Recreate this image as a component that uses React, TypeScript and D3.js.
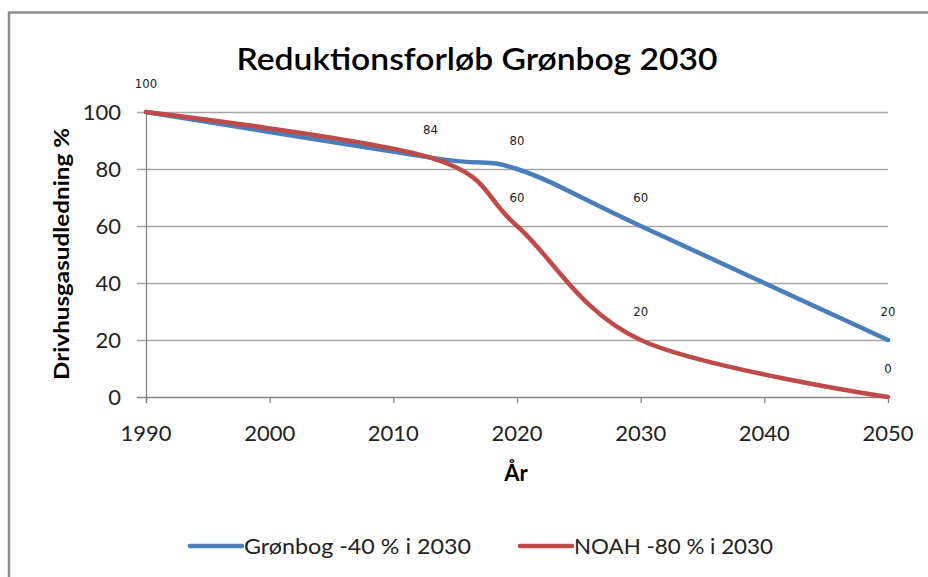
import React, { useEffect, useRef } from "react";
import * as d3 from "d3";

const years = [1990, 2013, 2020, 2030, 2050];
const groenbog = [100, 84, 80, 60, 20];
const noah = [100, 84, 60, 20, 0];
const seriesNames = ["Grønbog -40 % i 2030", "NOAH -80 % i 2030"];
const seriesColors = ["#4a7ebb", "#be4b48"];
const yTicks = [0, 20, 40, 60, 80, 100];
const xTicks = [1990, 2000, 2010, 2020, 2030, 2040, 2050];

const W = 928;
const H = 577;
const FONT = "Lato, 'Open Sans', sans-serif";

const App = () => {
  const ref = useRef<SVGSVGElement>(null);

  useEffect(() => {
    const svg = d3.select(ref.current);
    svg.selectAll("*").remove();

    const x = d3.scaleLinear().domain([1990, 2050]).range([146, 888]);
    const y = d3.scaleLinear().domain([0, 100]).range([397, 112]);

    // chart area frame (cut off at right and bottom)
    svg
      .append("rect")
      .attr("x", 9)
      .attr("y", 12.5)
      .attr("width", 960)
      .attr("height", 620)
      .attr("fill", "#fff")
      .attr("stroke", "#8c8c8c")
      .attr("stroke-width", 2.5);

    svg
      .append("text")
      .attr("x", 477)
      .attr("y", 70)
      .attr("text-anchor", "middle")
      .attr("font-family", FONT)
      .attr("font-weight", 600)
      .attr("font-size", 30)
      .attr("textLength", 481)
      .attr("lengthAdjust", "spacingAndGlyphs")
      .attr("fill", "#000")
      .text("Reduktionsforløb Grønbog 2030");

    // gridlines
    svg
      .append("g")
      .selectAll("line")
      .data(yTicks)
      .join("line")
      .attr("x1", 137)
      .attr("x2", x(2050))
      .attr("y1", (d) => y(d) + 0.5)
      .attr("y2", (d) => y(d) + 0.5)
      .attr("stroke", (d) => (d === 0 ? "#868686" : "#a6a6a6"))
      .attr("stroke-width", 1.3);

    svg
      .append("line")
      .attr("x1", x(1990) + 0.5)
      .attr("x2", x(1990) + 0.5)
      .attr("y1", y(100))
      .attr("y2", y(0) + 6)
      .attr("stroke", "#868686")
      .attr("stroke-width", 1.3);

    svg
      .append("g")
      .selectAll("line")
      .data(xTicks)
      .join("line")
      .attr("x1", (d) => x(d) + 0.5)
      .attr("x2", (d) => x(d) + 0.5)
      .attr("y1", y(0))
      .attr("y2", y(0) + 6)
      .attr("stroke", "#868686")
      .attr("stroke-width", 1.3);

    svg
      .append("g")
      .selectAll("text")
      .data(yTicks)
      .join("text")
      .attr("x", 121)
      .attr("y", (d) => y(d) + 8)
      .attr("text-anchor", "end")
      .attr("font-family", FONT)
      .attr("font-size", 22)
      .attr("fill", "#222")
      .text((d) => d);

    svg
      .append("g")
      .selectAll("text")
      .data(xTicks)
      .join("text")
      .attr("x", (d) => x(d))
      .attr("y", 441)
      .attr("text-anchor", "middle")
      .attr("font-family", FONT)
      .attr("font-size", 22)
      .attr("fill", "#222")
      .text((d) => d);

    svg
      .append("text")
      .attr("transform", `translate(69,254) rotate(-90)`)
      .attr("text-anchor", "middle")
      .attr("font-family", FONT)
      .attr("font-weight", "bold")
      .attr("font-size", 21)
      .attr("textLength", 252)
      .attr("lengthAdjust", "spacingAndGlyphs")
      .text("Drivhusgasudledning %");

    svg
      .append("text")
      .attr("x", 516)
      .attr("y", 481)
      .attr("text-anchor", "middle")
      .attr("font-family", FONT)
      .attr("font-weight", "bold")
      .attr("font-size", 22)
      .text("År");

    const line = d3
      .line<[number, number]>()
      .x((d) => x(d[0]))
      .y((d) => y(d[1]))
      .curve(d3.curveCardinal.tension(0));

    const series = [groenbog, noah];
    series.forEach((vals, i) => {
      svg
        .append("path")
        .datum(years.map((yr, j) => [yr, vals[j]] as [number, number]))
        .attr("d", line)
        .attr("fill", "none")
        .attr("stroke", seriesColors[i])
        .attr("stroke-width", 4.5)
        .attr("stroke-linecap", "round");
    });

    // data labels, one per distinct point
    const seen = new Set<string>();
    const labels: [number, number][] = [];
    series.forEach((vals) =>
      years.forEach((yr, j) => {
        const key = `${yr}-${vals[j]}`;
        if (!seen.has(key)) {
          seen.add(key);
          labels.push([yr, vals[j]]);
        }
      })
    );

    svg
      .append("g")
      .selectAll("text")
      .data(labels)
      .join("text")
      .attr("x", (d) => x(d[0]))
      .attr("y", (d) => y(d[1]) - 24)
      .attr("text-anchor", "middle")
      .attr("font-family", "'DejaVu Sans Condensed', sans-serif")
      .attr("font-size", 13)
      .attr("fill", "#1a1a1a")
      .text((d) => d[1]);

    // legend
    const legendX = [190, 520];
    const legendLen = [227, 199];
    const legend = svg
      .append("g")
      .selectAll("g")
      .data(seriesNames)
      .join("g")
      .attr("transform", (_, i) => `translate(${legendX[i]},546)`);
    legend
      .append("line")
      .attr("x1", 0)
      .attr("x2", 52)
      .attr("stroke", (_, i) => seriesColors[i])
      .attr("stroke-width", 4.5)
      .attr("stroke-linecap", "round");
    legend
      .append("text")
      .attr("x", 54)
      .attr("y", 8)
      .attr("font-family", FONT)
      .attr("font-size", 21)
      .attr("fill", "#222")
      .attr("textLength", (_, i) => legendLen[i])
      .attr("lengthAdjust", "spacingAndGlyphs")
      .text((d) => d);
  }, []);

  return (
    <svg
      ref={ref}
      width={W}
      height={H}
      style={{ position: "absolute", left: 0, top: 0, background: "#fff" }}
    />
  );
};

export default App;
